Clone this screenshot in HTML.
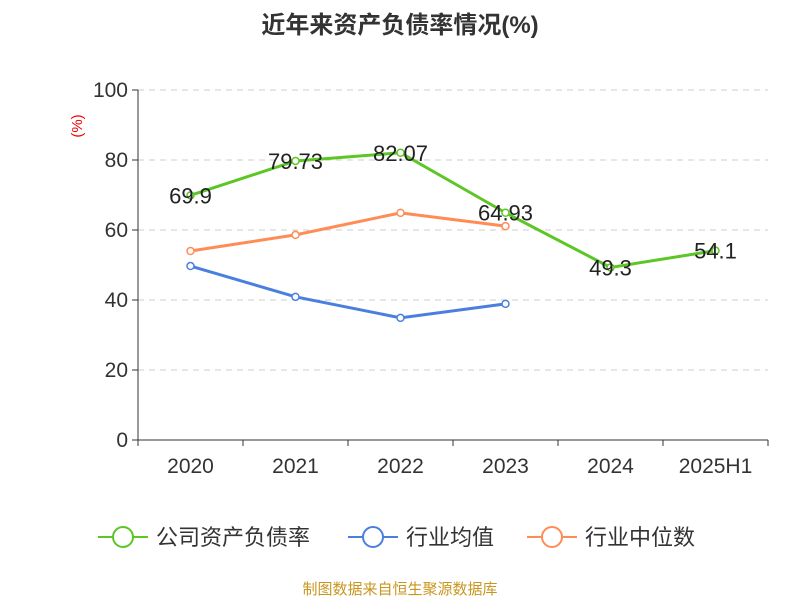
<!DOCTYPE html>
<html><head><meta charset="utf-8"><style>
body{margin:0;background:#fff;font-family:"Liberation Sans","Noto Sans CJK SC",sans-serif}
</style></head><body>
<svg id="c" width="800" height="600" xmlns="http://www.w3.org/2000/svg" font-family="Liberation Sans, Noto Sans CJK SC, sans-serif"></svg>
<script>
const categories=["2020","2021","2022","2023","2024","2025H1"];
const companyRatio=[69.9,79.73,82.07,64.93,49.3,54.1];
const companyLabels=["69.9","79.73","82.07","64.93","49.3","54.1"];
const industryAvg=[49.7,40.9,34.9,38.9];
const industryMedian=[54.0,58.6,64.9,61.1];
const yTicks=[0,20,40,60,80,100];
const svg=document.getElementById('c');const NS='http://www.w3.org/2000/svg';
const L=138,R=768,T=90,B=440;
const bw=(R-L)/categories.length;
const xs=i=>L+bw*(i+0.5);
const ys=v=>B-(v/100)*(B-T);
function mk(t,a,p){const e=document.createElementNS(NS,t);for(const k in a)e.setAttribute(k,a[k]);(p||svg).appendChild(e);return e;}
let t=mk('text',{x:400,y:33,'text-anchor':'middle','font-size':24,'font-weight':'bold',fill:'#333'});t.textContent='近年来资产负债率情况(%)';

t=mk('text',{x:82,y:126,'text-anchor':'middle','font-size':15,fill:'#e00',transform:'rotate(-90 82 126)'});t.textContent='(%)';

yTicks.forEach(v=>{const y=ys(v);
 if(v>0){const g=mk('line',{x1:L,x2:R,y1:y,y2:y,stroke:'#ccc','stroke-dasharray':'6,5'});}
 mk('line',{x1:L-6,x2:L,y1:y,y2:y,stroke:'#333'});
 const tx=mk('text',{x:L-10,y:y+7,'text-anchor':'end','font-size':21,fill:'#333'});tx.textContent=v;
 });
let ax=mk('line',{x1:L,x2:L,y1:T,y2:B,stroke:'#333'});
ax=mk('line',{x1:L,x2:R,y1:B,y2:B,stroke:'#333'});
for(let i=0;i<=categories.length;i++)mk('line',{x1:L+bw*i,x2:L+bw*i,y1:B,y2:B+6,stroke:'#333'});
categories.forEach((c,i)=>{const tx=mk('text',{x:xs(i),y:473,'text-anchor':'middle','font-size':21,fill:'#333'});tx.textContent=c;
 });
function series(vals,color,name){const g=mk('g',{});
 mk('polyline',{points:vals.map((v,i)=>xs(i)+','+ys(v)).join(' '),fill:'none',stroke:color,'stroke-width':3},g);
 vals.forEach((v,i)=>{const p=mk('circle',{cx:xs(i),cy:ys(v),r:3.5,fill:'#fff',stroke:color,'stroke-width':1.5},g);
  });}
series(industryMedian,'#ff8c55','industry-median-line');
series(industryAvg,'#4a7fe0','industry-avg-line');
series(companyRatio,'#5cc625','company-ratio-line');
companyRatio.forEach((v,i)=>{const tx=mk('text',{x:xs(i),y:ys(v)+8,'text-anchor':'middle','font-size':22,fill:'#222'});tx.textContent=companyLabels[i];
 });
const leg=[["公司资产负债率",'#5cc625',98],["行业均值",'#4a7fe0',348],["行业中位数",'#ff8c55',527]];
leg.forEach(([n,c,x])=>{const g=mk('g',{});
 mk('line',{x1:x,x2:x+50,y1:537,y2:537,stroke:c,'stroke-width':2},g);
 mk('circle',{cx:x+25,cy:537,r:10,fill:'#fff',stroke:c,'stroke-width':2},g);
 const tx=mk('text',{x:x+58,y:545,'font-size':22,fill:'#333'},g);tx.textContent=n;});
t=mk('text',{x:400,y:594,'text-anchor':'middle','font-size':15,fill:'#c8961e'});t.textContent='制图数据来自恒生聚源数据库';

</script></body></html>
